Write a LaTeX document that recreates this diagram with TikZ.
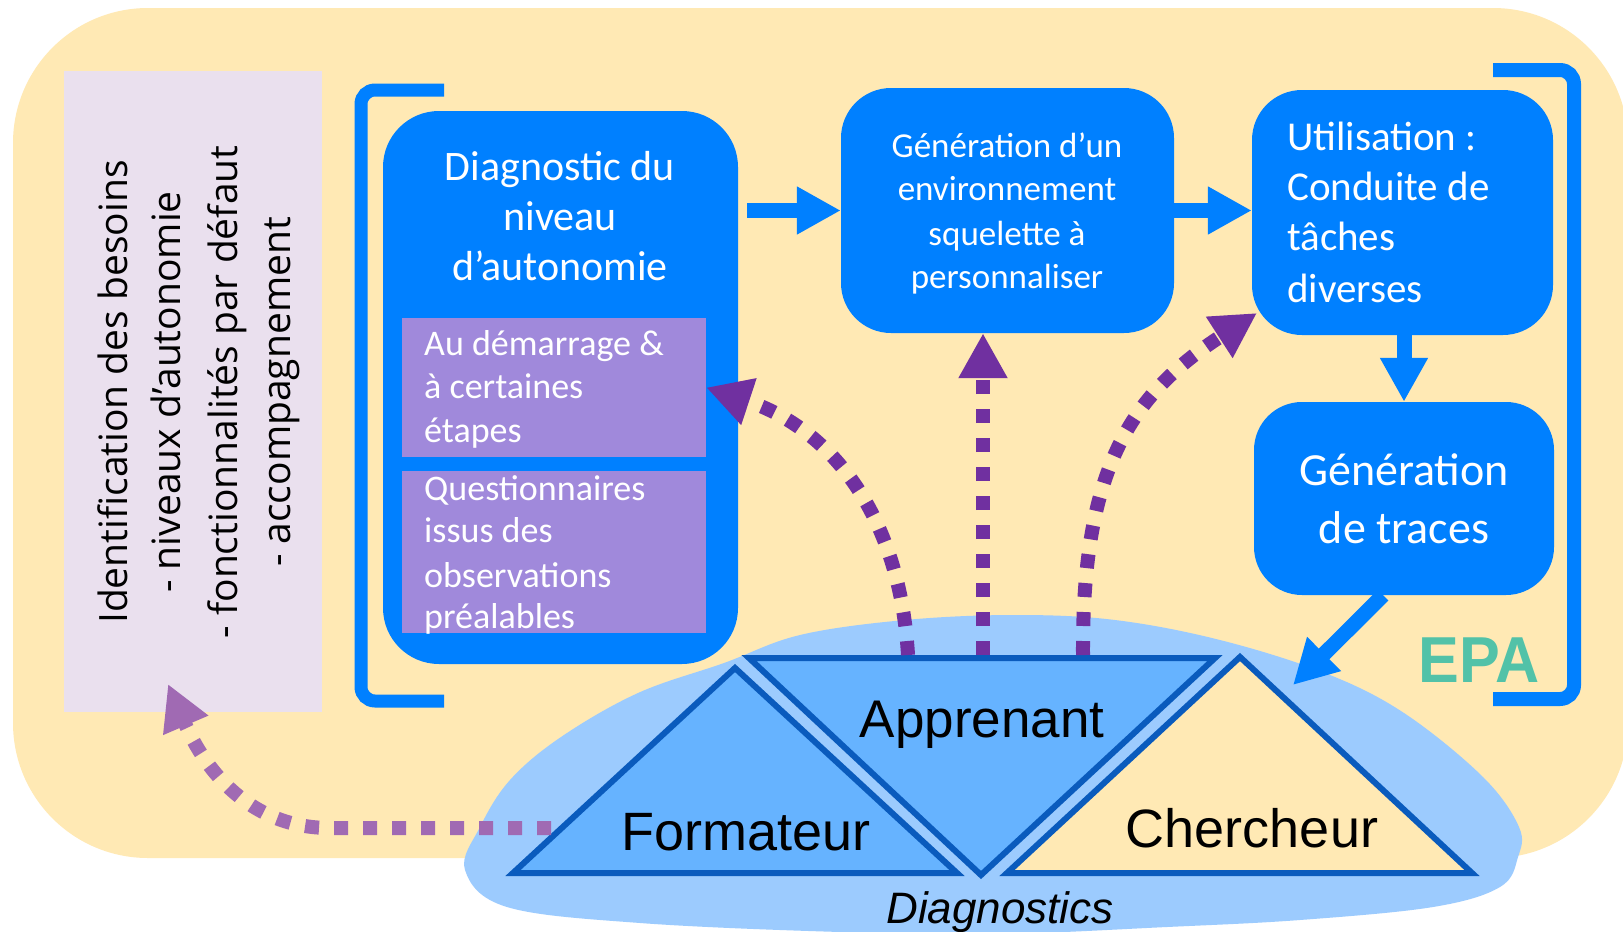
\documentclass[tikz,border=0pt]{standalone}
\usepackage{fontspec}
\setmainfont{Carlito}
\newfontfamily\calib{Carlito}
\newfontfamily\osans{Open Sans}
\newfontfamily\arialf{Liberation Sans}
\usetikzlibrary{arrows.meta,calc}
\definecolor{mainblue}{HTML}{0080FF}
\definecolor{triblue}{HTML}{66B3FF}
\definecolor{tristroke}{HTML}{0A5BBD}
\definecolor{blobblue}{HTML}{9CCBFE}
\definecolor{bgyellow}{HTML}{FFE9B4}
\definecolor{lavend}{HTML}{EAE0EE}
\definecolor{pboxfill}{HTML}{A089DB}
\definecolor{darkpurp}{HTML}{7030A0}
\definecolor{lightpurp}{HTML}{A06AB3}
\definecolor{epateal}{HTML}{52C2A8}
\begin{document}
\begin{tikzpicture}[x=1pt,y=-1pt,
  box/.style={rectangle, fill=mainblue, inner sep=0pt},
  pbox/.style={rectangle, fill=pboxfill, inner sep=0pt},
  wtxt/.style={text=white, inner sep=0pt},
  ktxt/.style={text=black, inner sep=0pt, anchor=base},
  blockarrow/.style={draw=mainblue, line width=15, -{Triangle[length=44pt,width=45pt]}},
  dotarrow/.style={draw=darkpurp, line width=14, dash pattern=on 14pt off 15pt, -{Triangle[length=45pt,width=46pt]}},
  bracketline/.style={draw=mainblue, line width=13, rounded corners=14, line cap=butt},
  tri/.style={draw=tristroke, line width=6},
]
\useasboundingbox (0,0) rectangle (1623,932);
\clip (0,0) rectangle (1623,932);
\fill[white] (0,0) rectangle (1623,932);
% background
\fill[bgyellow, rounded corners=135] (13,8) rectangle (1628,858);
% left lavender box
\node[rectangle, fill=lavend, inner sep=0pt, minimum width=258, minimum height=641] (needs) at (193,391.5) {};
\node[ktxt, font=\osans\fontsize{39}{47}\selectfont, rotate=90] (idA) at (127,392) {Identification des besoins};
\node[ktxt, font=\osans\fontsize{39}{47}\selectfont, rotate=90] (idB) at (180,392) {- niveaux d’autonomie};
\node[ktxt, font=\osans\fontsize{39}{47}\selectfont, rotate=90] (idC) at (237,392) {- fonctionnalités par défaut};
\node[ktxt, font=\osans\fontsize{39}{47}\selectfont, rotate=90] (idD) at (290,392) {- accompagnement};
% brackets
\coordinate (lbTop) at (444,90);
\coordinate (lbBot) at (444,701);
\draw[bracketline] (lbTop) -- (361,90) -- (361,701) -- (lbBot);
\coordinate (rbTop) at (1493,70);
\coordinate (rbBot) at (1493,699);
\draw[bracketline, line width=14] (rbTop) -- (1574,70) -- (1574,699) -- (rbBot);
% diagnostics blob
\fill[blobblue] plot[smooth cycle, tension=0.6] coordinates {
  (465,870) (480,827) (510,780) (561,737) (638,693) (724,663) (800,635)
  (905,620) (1015,615) (1115,620) (1220,640) (1325,673) (1404,713)
  (1483,777) (1519,827) (1518,857) (1500,887) (1433,907) (1300,920)
  (1167,927) (1000,934) (840,932) (640,923) (507,907)};
% main boxes
\node[box, rounded corners=56, minimum width=355, minimum height=553] (diag) at (560.5,387.5) {};
\node[pbox, minimum width=304, minimum height=139] (pb1) at (554,387.5) {};
\node[pbox, minimum width=304, minimum height=162] (pb2) at (554,552) {};
\node[box, rounded corners=50, minimum width=333, minimum height=245] (gen) at (1007.5,210.5) {};
\node[box, rounded corners=50, minimum width=301, minimum height=245] (util) at (1402.5,212.5) {};
\node[box, rounded corners=48, minimum width=300, minimum height=193] (traces) at (1404,498.5) {};
% texts in boxes
\node[wtxt, anchor=base, font=\calib\fontsize{42}{50}\selectfont] (dA) at (560,180) {Diagnostic du};
\node[wtxt, anchor=base, font=\calib\fontsize{42}{50}\selectfont] (dB) at (560,230) {niveau};
\node[wtxt, anchor=base, font=\calib\fontsize{42}{50}\selectfont] (dC) at (560,280) {d’autonomie};
\node[wtxt, anchor=base west, font=\calib\fontsize{36}{43}\selectfont] (p1A) at (424,355) {Au démarrage \&};
\node[wtxt, anchor=base west, font=\calib\fontsize{36}{43}\selectfont] (p1B) at (424,398) {à certaines};
\node[wtxt, anchor=base west, font=\calib\fontsize{36}{43}\selectfont] (p1C) at (424,442) {étapes};
\node[wtxt, anchor=base west, font=\calib\fontsize{36}{43}\selectfont] (p2A) at (424,500) {Questionnaires};
\node[wtxt, anchor=base west, font=\calib\fontsize{36}{43}\selectfont] (p2B) at (424,542) {issus des};
\node[wtxt, anchor=base west, font=\calib\fontsize{36}{43}\selectfont] (p2C) at (424,587) {observations};
\node[wtxt, anchor=base west, font=\calib\fontsize{36}{43}\selectfont] (p2D) at (424,628) {préalables};
\node[wtxt, anchor=base, font=\calib\fontsize{35}{44}\selectfont] (gA) at (1007,157) {Génération d’un};
\node[wtxt, anchor=base, font=\calib\fontsize{35}{44}\selectfont] (gB) at (1007,200) {environnement};
\node[wtxt, anchor=base, font=\calib\fontsize{35}{44}\selectfont] (gC) at (1007,245) {squelette à};
\node[wtxt, anchor=base, font=\calib\fontsize{35}{44}\selectfont] (gD) at (1007,288) {personnaliser};
\node[wtxt, anchor=base west, font=\calib\fontsize{41}{50}\selectfont] (uA) at (1287,150) {Utilisation :};
\node[wtxt, anchor=base west, font=\calib\fontsize{41}{50}\selectfont] (uB) at (1287,200) {Conduite de};
\node[wtxt, anchor=base west, font=\calib\fontsize{41}{50}\selectfont] (uC) at (1287,250) {tâches};
\node[wtxt, anchor=base west, font=\calib\fontsize{41}{50}\selectfont] (uD) at (1287,302) {diverses};
\node[wtxt, anchor=base, font=\calib\fontsize{46}{56}\selectfont] (tA) at (1404,485) {Génération};
\node[wtxt, anchor=base, font=\calib\fontsize{46}{56}\selectfont] (tB) at (1404,543) {de traces};
% EPA
\node[inner sep=0pt, anchor=base, text=epateal, font=\arialf\bfseries\fontsize{65}{72}\selectfont] (epa) at (1479,682) {\scalebox{0.94}[1]{EPA}};
% block arrows
\draw[blockarrow, shorten <=9pt] (diag.east |- gen.west) -- (gen.west);
\draw[blockarrow] (gen.east) -- (gen.east -| util.west);
\draw[blockarrow] (util.south -| traces.north) -- (traces.north);
\coordinate (a4end) at (1293,685);
\draw[blockarrow] ([xshift=-21]traces.south) -- (a4end);
% triangles
\coordinate (fL) at (513,873); \coordinate (fR) at (957,873); \coordinate (fT) at (735,668);
\coordinate (aL) at (749,658); \coordinate (aR) at (1215,658); \coordinate (aB) at (981,875);
\coordinate (cL) at (1007,873); \coordinate (cR) at (1472,873); \coordinate (cT) at (1240,657);
\filldraw[tri, fill=triblue] (fL) -- (fT) -- (fR) -- cycle;
\filldraw[tri, fill=triblue] (aL) -- (aR) -- (aB) -- cycle;
\filldraw[tri, fill=bgyellow] (cL) -- (cT) -- (cR) -- cycle;
\node[ktxt, font=\arialf\fontsize{53}{60}\selectfont] (appr) at (982,737) {Apprenant};
\node[ktxt, font=\arialf\fontsize{54}{60}\selectfont] (form) at (746,850) {Formateur};
\node[ktxt, font=\arialf\fontsize{54}{60}\selectfont] (cherch) at (1252,847) {Chercheur};
\node[ktxt, font=\arialf\itshape\fontsize{44}{50}\selectfont] (diagn) at (1000,923) {Diagnostics};
% dotted arrows
\coordinate (ap1) at (908,655);
\coordinate (ap2) at (983,655);
\coordinate (ap3) at (1083,655);
\coordinate (p3end) at (1257,313);
\coordinate (f1) at (551,828);
\coordinate (p4end) at (168,684);
\draw[dotarrow] (ap1) .. controls (900,520) and (835,430) .. (pb1.east);
\draw[dotarrow] (ap2) -- (ap2 |- gen.south);
\draw[dotarrow] (ap3) .. controls (1082,470) and (1130,395) .. (p3end);
\draw[dotarrow, draw=lightpurp] (f1) -- (330,828) .. controls (250,828) and (205,770) .. (p4end);
\end{tikzpicture}
\end{document}
